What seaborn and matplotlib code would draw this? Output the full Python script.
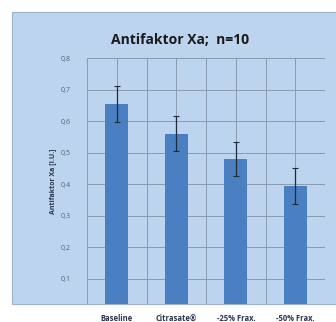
import numpy as np
import pandas as pd
import matplotlib
matplotlib.use("Agg")
import matplotlib.pyplot as plt
import seaborn as sns
from matplotlib.patches import Rectangle

# values
groups = ["Baseline", "Citrasate®", "-25% Frax.", "-50% Frax."]
means = [0.655, 0.56, 0.48, 0.395]
errors = [0.057, 0.055, 0.055, 0.057]
yticks = [0.1, 0.2, 0.3, 0.4, 0.5, 0.6, 0.7, 0.8]

df = pd.DataFrame({"group": groups, "value": means})

sns.set_style("white")
plt.rcParams["font.family"] = ["Open Sans", "DejaVu Sans"]

fig = plt.figure(figsize=(3.36, 3.22), dpi=100)
fig.patch.set_facecolor("white")

# light blue chart panel (cut off at the bottom like the scan)
panel = Rectangle((12 / 336, 1 - 304 / 322), 1.0, (304 - 12) / 322,
                  transform=fig.transFigure, facecolor="#bcd4ee",
                  edgecolor="#9fb3c8", linewidth=0.8, zorder=-5)
fig.patches.append(panel)

ax = fig.add_axes([87 / 336, 1 - 304 / 322, (325 - 87) / 336, (304 - 58) / 322])
ax.set_zorder(5)
ax.set_facecolor("#bcd4ee")

sns.barplot(data=df, x="group", y="value", color="#4a7fc1", width=0.39,
            saturation=1, linewidth=0, ax=ax, zorder=3)
ax.errorbar(range(len(groups)), means, yerr=errors, fmt="none",
            ecolor="#1f2a3a", elinewidth=0.9, capsize=2, capthick=0.8, zorder=4)

ax.set_xlim(-0.5, 3.5)
ax.set_ylim(0.02, 0.8)
ax.set_yticks(yticks)
ax.set_yticklabels([f"{t:.1f}".replace(".", ",") for t in yticks],
                   fontsize=5, color="#54647a")
ax.set_xticks(range(len(groups)))
ax.set_xticklabels(groups, fontsize=5.5, fontweight="bold", color="#2a3550")
ax.set_xticks(np.arange(-0.5, 4.0, 1.0), minor=True)
ax.tick_params(axis="both", which="both", length=0)
ax.tick_params(axis="x", pad=7)
ax.tick_params(axis="y", pad=12)

ax.grid(True, axis="y", color="#8a9bb0", linewidth=0.7, zorder=1)
ax.grid(True, axis="x", which="both", color="#8a9bb0", linewidth=0.7, zorder=1)
ax.set_axisbelow(True)
for s in ax.spines.values():
    s.set_visible(False)

ax.set_xlabel("")
ax.set_ylabel("Antifaktor Xa [I.U.]", fontsize=5, fontweight="bold",
              color="#2a3550", labelpad=3)

fig.text(180 / 336, 1 - 40 / 322, "Antifaktor Xa;  n=10", ha="center",
         va="center", fontsize=10, fontweight="bold", color="#1a1a1a")

fig.savefig("out.png", dpi=100)
